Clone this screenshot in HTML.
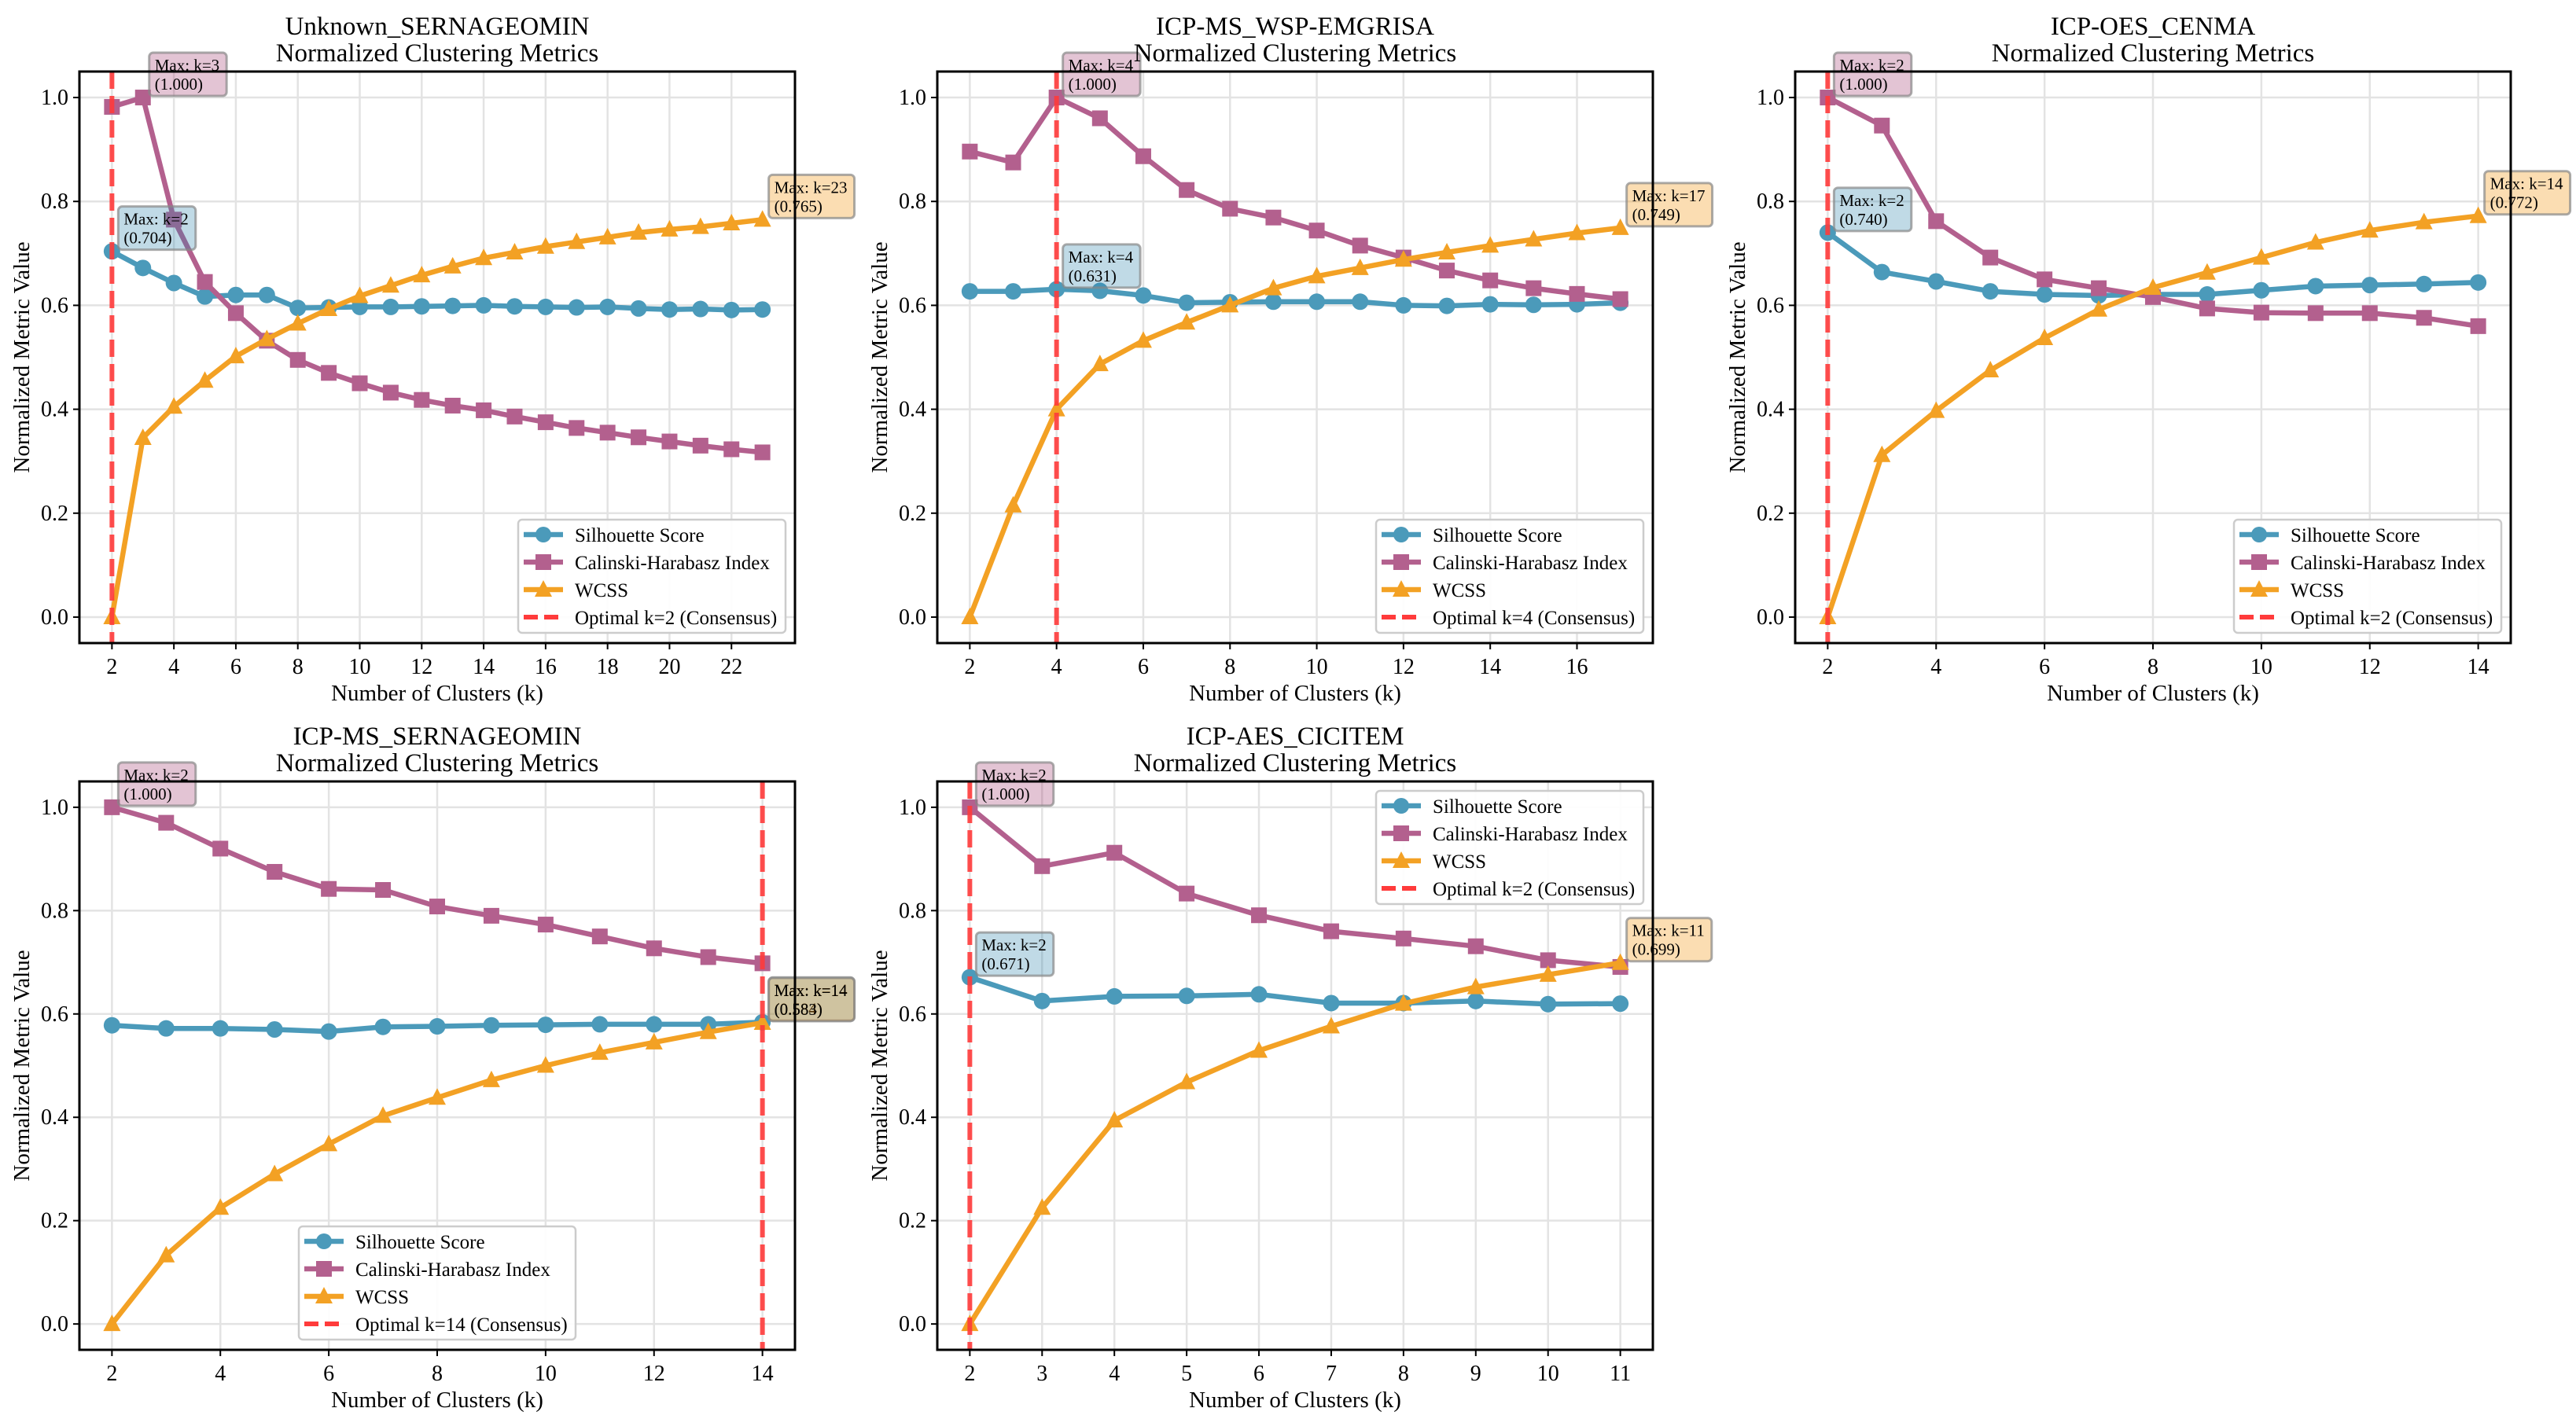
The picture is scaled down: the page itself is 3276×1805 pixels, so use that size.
<!DOCTYPE html>
<html><head><meta charset="utf-8">
<style>
html,body{margin:0;padding:0;background:#fff;}
svg{display:block;font-family:"Liberation Serif",serif;}
</style></head>
<body>
<svg id="fig" xmlns="http://www.w3.org/2000/svg" width="3276" height="1805" viewBox="0 0 3276 1805">
<rect width="3276" height="1805" fill="#fff"/>
</svg>
<script>
// ---- data ----
const p1Title = "Unknown_SERNAGEOMIN";
const p1K = [2,3,4,5,6,7,8,9,10,11,12,13,14,15,16,17,18,19,20,21,22,23];
const p1Sil = [.704,.672,.643,.617,.620,.620,.595,.596,.597,.597,.598,.599,.600,.598,.597,.596,.597,.594,.592,.593,.591,.592];
const p1CH = [.982,1.0,.765,.645,.585,.532,.495,.470,.450,.432,.418,.407,.398,.386,.375,.364,.355,.346,.338,.330,.323,.317];
const p1W = [0,.345,.405,.455,.502,.535,.565,.593,.618,.638,.658,.675,.691,.702,.713,.722,.731,.740,.746,.751,.758,.765];
const p1XTicks = [2,4,6,8,10,12,14,16,18,20,22];
const p1Opt = 2;

const p2Title = "ICP-MS_WSP-EMGRISA";
const p2K = [2,3,4,5,6,7,8,9,10,11,12,13,14,15,16,17];
const p2Sil = [.627,.627,.631,.628,.619,.605,.606,.607,.607,.607,.600,.599,.602,.601,.602,.605];
const p2CH = [.896,.875,1.0,.960,.887,.822,.786,.769,.744,.715,.692,.667,.648,.633,.622,.612];
const p2W = [0,.215,.400,.487,.532,.567,.600,.633,.656,.672,.688,.702,.715,.727,.739,.749];
const p2XTicks = [2,4,6,8,10,12,14,16];
const p2Opt = 4;

const p3Title = "ICP-OES_CENMA";
const p3K = [2,3,4,5,6,7,8,9,10,11,12,13,14];
const p3Sil = [.740,.664,.646,.627,.621,.619,.621,.621,.629,.637,.639,.641,.644];
const p3CH = [1.0,.946,.762,.692,.650,.633,.616,.594,.586,.585,.585,.576,.560];
const p3W = [0,.312,.397,.475,.537,.592,.634,.663,.692,.721,.744,.760,.772];
const p3XTicks = [2,4,6,8,10,12,14];
const p3Opt = 2;

const p4Title = "ICP-MS_SERNAGEOMIN";
const p4K = [2,3,4,5,6,7,8,9,10,11,12,13,14];
const p4Sil = [.578,.572,.572,.570,.566,.575,.576,.578,.579,.580,.580,.580,.584];
const p4CH = [1.0,.970,.920,.875,.842,.840,.808,.790,.773,.750,.727,.710,.698];
const p4W = [0,.133,.225,.290,.348,.403,.438,.472,.500,.525,.545,.565,.583];
const p4XTicks = [2,4,6,8,10,12,14];
const p4Opt = 14;

const p5Title = "ICP-AES_CICITEM";
const p5K = [2,3,4,5,6,7,8,9,10,11];
const p5Sil = [.671,.625,.634,.635,.638,.621,.621,.625,.619,.620];
const p5CH = [1.0,.886,.912,.833,.791,.760,.746,.731,.704,.691];
const p5W = [0,.225,.394,.468,.529,.576,.620,.652,.676,.699];
const p5XTicks = [2,3,4,5,6,7,8,9,10,11];
const p5Opt = 2;

const yTicks = [0.0,0.2,0.4,0.6,0.8,1.0];
const seriesNames = ["Silhouette Score","Calinski-Harabasz Index","WCSS"];

// ---- drawing ----
const NS = "http://www.w3.org/2000/svg";
const svg = document.getElementById('fig');
function el(tag, attrs, parent){
  const e = document.createElementNS(NS, tag);
  for (const k in attrs) e.setAttribute(k, attrs[k]);
  (parent||svg).appendChild(e);
  return e;
}
const COL = ["#4b9aba","#b3608e","#f3a124"];
const BOXC = ["#2E86AB","#A23B72","#F18F01"];

function panel(idx, left, top, w, h, title, ks, sil, ch, wc, xticks, opt, legendPos){
  const g = el('g', {});
  
  
  const kmin = ks[0], kmax = ks[ks.length-1];
  const pad = (kmax-kmin)*0.05;
  const x0 = kmin-pad, x1 = kmax+pad;
  const X = k => left + (k-x0)/(x1-x0)*w;
  const Y = v => top + h - (v+0.05)/1.1*h;
  const bottom = top+h;
  for (const t of xticks){
    const l = el('line',{x1:X(t),x2:X(t),y1:top,y2:bottom,stroke:'#e3e3e3','stroke-width':2.5},g);
     
  }
  for (const t of yTicks){
    const l = el('line',{x1:left,x2:left+w,y1:Y(t),y2:Y(t),stroke:'#e3e3e3','stroke-width':2.5},g);
     
  }
  const data = [sil, ch, wc];
  const marks = ['circle','square','triangle'];
  data.forEach((arr, si) => {
    const sg = el('g',{},g);
    
    
    const pts = arr.map((v,i)=>X(ks[i]).toFixed(1)+','+Y(v).toFixed(1)).join(' ');
    const pl = el('polyline',{points:pts,fill:'none',stroke:COL[si],'stroke-width':6.5,'stroke-linejoin':'round'},sg);
     
    arr.forEach((v,i)=>{
      const cx = X(ks[i]), cy = Y(v);
      let m;
      if (marks[si]==='circle') m = el('circle',{cx:cx,cy:cy,r:10.5,fill:COL[si]},sg);
      else if (marks[si]==='square') m = el('rect',{x:cx-10,y:cy-10,width:20,height:20,fill:COL[si]},sg);
      else m = el('polygon',{points:`${cx},${cy-12} ${cx-11},${cy+9} ${cx+11},${cy+9}`,fill:COL[si]},sg);
       
    });
  });
  const ol = el('line',{x1:X(opt),x2:X(opt),y1:top,y2:bottom,stroke:'#ff3b3b','stroke-width':6,'stroke-dasharray':'22,9',opacity:0.9},g);
   
  data.forEach((arr, si) => {
    let mi = 0; arr.forEach((v,i)=>{ if (v>arr[mi]) mi=i; });
    const px = X(ks[mi]), py = Y(arr[mi]);
    const ag = el('g',{},g);
     
    const r = el('rect',{x:px+8,y:py-57,width:100,height:55,rx:5,fill:BOXC[si],'fill-opacity':0.3,stroke:'#888','stroke-opacity':0.7,'stroke-width':3},ag);
    const t1 = el('text',{x:px+15,y:py-34,'font-size':21,fill:'#000'},ag); t1.textContent = 'Max: k=' + ks[mi];
    const t2 = el('text',{x:px+15,y:py-10,'font-size':21,fill:'#000'},ag); t2.textContent = '(' + arr[mi].toFixed(3) + ')';
    const bw = Math.max(t1.getComputedTextLength(), t2.getComputedTextLength());
    r.setAttribute('width', bw+16);
  });
  const fr = el('rect',{x:left,y:top,width:w,height:h,fill:'none',stroke:'#000','stroke-width':3},g);
   
  for (const t of xticks){
    el('line',{x1:X(t),x2:X(t),y1:bottom,y2:bottom+8,stroke:'#000','stroke-width':2},g);
    const tx = el('text',{x:X(t),y:bottom+39,'font-size':28,'text-anchor':'middle'},g);
     
    tx.textContent = t;
  }
  for (const t of yTicks){
    el('line',{x1:left-8,x2:left,y1:Y(t),y2:Y(t),stroke:'#000','stroke-width':2},g);
    const ty = el('text',{x:left-14,y:Y(t)+9,'font-size':28,'text-anchor':'end'},g);
     
    ty.textContent = t.toFixed(1);
  }
  const xl = el('text',{x:left+w/2,y:bottom+73,'font-size':29,'text-anchor':'middle'},g);
   
  xl.textContent = 'Number of Clusters (k)';
  const yl = el('text',{x:0,y:0,'font-size':29,'text-anchor':'middle',transform:`translate(${left-64},${top+h/2}) rotate(-90)`},g);
   
  yl.textContent = 'Normalized Metric Value';
  const tt1 = el('text',{x:left+w/2,y:top-47,'font-size':33,'text-anchor':'middle'},g);
   
  tt1.textContent = title;
  const tt2 = el('text',{x:left+w/2,y:top-13,'font-size':33,'text-anchor':'middle'},g);
   
  tt2.textContent = 'Normalized Clustering Metrics';
  const lw = opt>=10 ? 352 : 340, lh = 144;
  let lx, ly;
  if (legendPos==='lr'){ lx = left+w-12-lw; ly = bottom-13-lh; }
  else if (legendPos==='ur'){ lx = left+w-12-lw; ly = top+12; }
  else { lx = left+w/2-lw/2; ly = bottom-13-lh; }
  const lg = el('g',{},g);
   
  el('rect',{x:lx,y:ly,width:lw,height:lh,rx:5,fill:'#fff','fill-opacity':0.9,stroke:'#ccc','stroke-width':2.5},lg);
  const labels = seriesNames.concat(['Optimal k=' + opt + ' (Consensus)']);
  labels.forEach((lab,i)=>{
    const yy = ly+19+i*35;
    const eg = el('g',{},lg);
     
    if (i<3){
      el('line',{x1:lx+7,x2:lx+57,y1:yy,y2:yy,stroke:COL[i],'stroke-width':6.5},eg);
      const cx = lx+32;
      if (i===0) el('circle',{cx:cx,cy:yy,r:10,fill:COL[i]},eg);
      else if (i===1) el('rect',{x:cx-10,y:yy-10,width:20,height:20,fill:COL[i]},eg);
      else el('polygon',{points:`${cx},${yy-12} ${cx-11},${yy+9} ${cx+11},${yy+9}`,fill:COL[i]},eg);
    } else {
      el('line',{x1:lx+7,x2:lx+57,y1:yy,y2:yy,stroke:'#ff3b3b','stroke-width':6,'stroke-dasharray':'18,8'},eg);
    }
    const t = el('text',{x:lx+72,y:yy+9,'font-size':25},eg);
    t.textContent = lab;
  });
}

panel(1, 101, 91, 910, 727, p1Title, p1K, p1Sil, p1CH, p1W, p1XTicks, p1Opt, 'lr');
panel(2, 1192, 91, 910, 727, p2Title, p2K, p2Sil, p2CH, p2W, p2XTicks, p2Opt, 'lr');
panel(3, 2283, 91, 910, 727, p3Title, p3K, p3Sil, p3CH, p3W, p3XTicks, p3Opt, 'lr');
panel(4, 101, 994, 910, 723, p4Title, p4K, p4Sil, p4CH, p4W, p4XTicks, p4Opt, 'lc');
panel(5, 1192, 994, 910, 723, p5Title, p5K, p5Sil, p5CH, p5W, p5XTicks, p5Opt, 'ur');
</script>
</body></html>
